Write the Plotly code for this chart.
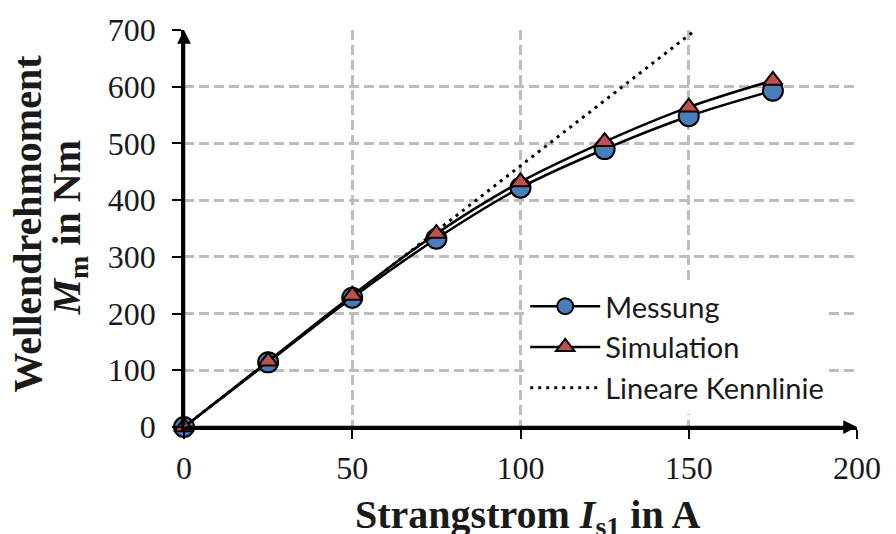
import plotly.graph_objects as go

# Phase current (A) and measured / simulated shaft torque (Nm)
strangstrom = [0, 25, 50, 75, 100, 125, 150, 175]
messung = [0, 114, 228, 332, 422, 490, 548, 593]
simulation = [0, 116, 232, 341, 432, 503, 564, 611]

# Linear characteristic through the origin
linear_x = [0, 152]
linear_y = [0, 700]

x_ticks = [0, 50, 100, 150, 200]
y_ticks = [0, 100, 200, 300, 400, 500, 600, 700]

serif = "Liberation Serif"
sans = "Lato"

fig = go.Figure()

fig.add_trace(go.Scatter(
    x=linear_x, y=linear_y, mode="lines", name="Lineare Kennlinie",
    line=dict(color="black", width=3, dash="3px,5px"),
    legendrank=3, cliponaxis=False,
))
fig.add_trace(go.Scatter(
    x=strangstrom, y=messung, mode="lines+markers", name="Messung",
    line=dict(color="black", width=2.5, shape="spline"),
    marker=dict(symbol="circle", size=20, color="#4a7ebb",
                line=dict(color="black", width=2)),
    legendrank=1, cliponaxis=False,
))
fig.add_trace(go.Scatter(
    x=strangstrom, y=simulation, mode="lines+markers", name="Simulation",
    line=dict(color="black", width=2.5, shape="spline"),
    marker=dict(symbol="triangle-up", size=17, color="#c0504d",
                line=dict(color="black", width=2)),
    legendrank=2, cliponaxis=False,
))

axis_common = dict(
    showline=True, linecolor="black", linewidth=2.5,
    ticks="outside", ticklen=9, tickwidth=2, tickcolor="black",
    showgrid=True, gridcolor="#bdbdbd", gridwidth=2.5, griddash="10px,5px",
    zeroline=False,
    tickfont=dict(family=serif, size=32, color="#1a1a1a"),
)

fig.update_xaxes(range=[0, 200], tickvals=x_ticks, ticklabelstandoff=2, **axis_common)
fig.update_yaxes(range=[0, 700], tickvals=y_ticks, ticklabelstandoff=10, **axis_common)

# Arrowheads at the ends of both axes
for tip_x, tip_y in [(0, 700), (200, 0)]:
    fig.add_annotation(
        x=tip_x, y=tip_y, ax=0, ay=0, xref="x", yref="y", axref="x", ayref="y",
        text="", showarrow=True, arrowhead=2, arrowsize=1.1, arrowwidth=2.5,
        arrowcolor="black",
    )

# Axis titles
fig.add_annotation(
    xref="paper", yref="paper", x=0, y=0.5, xshift=-157, yshift=5,
    text="<b>Wellendrehmoment</b>", textangle=-90, showarrow=False,
    xanchor="center", yanchor="middle",
    font=dict(family=serif, size=40, color="#1a1a1a"),
)
fig.add_annotation(
    xref="paper", yref="paper", x=0, y=0.5, xshift=-116, yshift=0,
    text="<b><i>M</i><sub>m</sub> in Nm</b>", textangle=-90, showarrow=False,
    xanchor="center", yanchor="middle",
    font=dict(family=serif, size=40, color="#1a1a1a"),
)
fig.add_annotation(
    xref="paper", yref="paper", x=0.5, y=0, xshift=7, yshift=-90,
    text="<b>Strangstrom <i>I</i><sub>s1</sub> in A</b>", showarrow=False,
    xanchor="center", yanchor="middle",
    font=dict(family=serif, size=40, color="#1a1a1a"),
)

fig.update_layout(
    width=896, height=534,
    margin=dict(l=184, r=39, t=28, b=107),
    paper_bgcolor="white", plot_bgcolor="white",
    legend=dict(
        x=0.507, y=0.368, xanchor="left", yanchor="top",
        bgcolor="white", borderwidth=0, itemwidth=70,
        font=dict(family=sans, size=29, color="#1a1a1a"),
        tracegroupgap=0,
    ),
)

fig.write_html("out.html")
